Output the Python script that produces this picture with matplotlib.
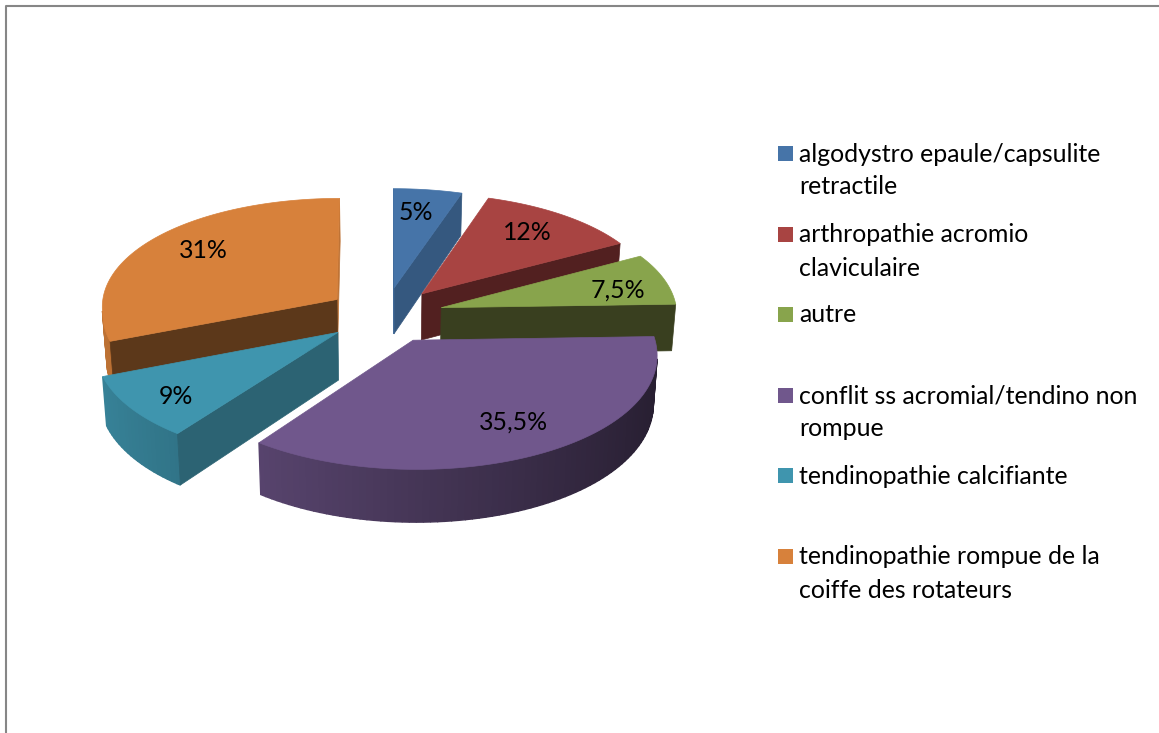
#!/usr/bin/env python3
"""
Exploded 3D style pie chart, drawn slice by slice with a small perspective projection
"""

import numpy as np
import matplotlib
matplotlib.use("Agg")
import matplotlib.pyplot as plt
from matplotlib.colors import to_rgb
from matplotlib.patches import Rectangle

# Data
labels = [
    "algodystro epaule/capsulite\nretractile",
    "arthropathie acromio\nclaviculaire",
    "autre",
    "conflit ss acromial/tendino non\nrompue",
    "tendinopathie calcifiante",
    "tendinopathie rompue de la\ncoiffe des rotateurs",
]
values = [5, 12, 7.5, 35.5, 9, 31]
value_texts = ["5%", "12%", "7,5%", "35,5%", "9%", "31%"]

# Colours
top_colors = ["#4674a8", "#a84442", "#88a44c", "#70578c", "#3f95ae", "#d7813b"]
wall_colors = ["#35587f", "#522020", "#393f1f", "#3a2d49", "#2c6373", "#5c381a"]

# Layout, in image pixels
WIDTH, HEIGHT = 1159, 733
CX, CY = 385, 315
RADIUS = 236
EXPLODE = 58.5
SQUASH = 0.478
PERSP = 0.00038
PERSP_BACK_X = 0.00024
PERSP_FRONT_X = 0.00048
DEPTH = 47
BOTTOM_SHRINK = 0.986
FONT_SIZE = 17.9
value_xy = [(416, 212), (527, 233), (618, 290), (513, 422), (176, 396), (203, 250)]
legend_y = [154, 235, 315, 396, 476, 557]
LINE_GAP = 33
draw_order = [5, 0, 1, 2, 4, 3]

plt.rcParams["font.family"] = ["Lato", "DejaVu Sans"]


def project(x, y, bottom=False):
    """World point in the pie plane to image pixels"""
    s = 1.0 / (1.0 + PERSP * y)
    # the pie narrows and widens a bit differently than it flattens
    s_x = 1.0 / (1.0 + (PERSP_BACK_X if y > 0 else PERSP_FRONT_X) * y)
    sx = s_x * x
    sy = CY - s * SQUASH * y
    if bottom:
        sx = sx * BOTTOM_SHRINK
        sy = sy + DEPTH * s
    return CX + sx, sy


def facing(quad):
    """True when a side quad looks at the viewer (image y runs downwards)"""
    pts = np.array(quad)
    x, y = pts[:, 0], pts[:, 1]
    return np.sum(x * np.roll(y, -1) - np.roll(x, -1) * y) > 0


def shaded(color, theta):
    """Rim colour gets darker towards the right hand side"""
    f = 0.62 - 0.27 * np.cos(theta)
    return tuple(c * f for c in to_rgb(color))


def draw_quad(ax, quad, color, lw=1.0):
    pts = np.array(quad)
    ax.fill(pts[:, 0], pts[:, 1], color=color, linewidth=lw, zorder=ax.zcount)
    ax.zcount += 1


def draw_slice(ax, start, end, top_color, wall_color):
    """start and end are counter clockwise angles in radians"""
    mid = 0.5 * (start + end)
    ox, oy = EXPLODE * np.cos(mid), EXPLODE * np.sin(mid)
    angles = np.arange(start, end, np.radians(1.5))
    angles = np.append(angles, end)

    rim = [(ox + RADIUS * np.cos(t), oy + RADIUS * np.sin(t)) for t in angles]

    # Outer rim first
    for i in range(len(rim) - 1):
        a, b = rim[i], rim[i + 1]
        quad = [project(*a), project(*b), project(*b, True), project(*a, True)]
        if facing(quad):
            draw_quad(ax, quad, shaded(top_color, 0.5 * (angles[i] + angles[i + 1])))

    # Then the two cut faces, the one at 12 o'clock catches the light
    apex = (ox, oy)
    for a, b, angle in [(apex, rim[0], start), (rim[-1], apex, end)]:
        quad = [project(*a), project(*b), project(*b, True), project(*a, True)]
        if facing(quad):
            color = shaded(top_color, np.pi) if np.sin(angle) > 0.999 else wall_color
            draw_quad(ax, quad, color, lw=0.5)

    # Top face last
    top = [project(*apex)] + [project(*p) for p in rim]
    draw_quad(ax, top, top_color, lw=0.5)


def main():
    fig = plt.figure(figsize=(WIDTH / 100, HEIGHT / 100), dpi=100)
    ax = fig.add_axes([0, 0, 1, 1])
    ax.set_xlim(0, WIDTH)
    ax.set_ylim(HEIGHT, 0)
    ax.axis("off")
    ax.zcount = 2

    # Chart border, only top and left are in the picture
    ax.plot([6, 6, WIDTH], [HEIGHT, 6, 6], color="#868686", linewidth=1.5, zorder=1)

    # Slices run clockwise from 12 o'clock
    fractions = np.cumsum([0] + values) / np.sum(values)
    edges = np.pi / 2 - 2 * np.pi * fractions
    for i in draw_order:
        draw_slice(ax, edges[i + 1], edges[i], top_colors[i], wall_colors[i])

    for text, (x, y) in zip(value_texts, value_xy):
        ax.text(x, y, text, fontsize=FONT_SIZE, color="black", ha="center", va="center",
                zorder=ax.zcount + 1)

    # Legend
    for label, color, y in zip(labels, top_colors, legend_y):
        ax.add_patch(Rectangle((778, y - 8), 15, 15, facecolor=color, edgecolor="none"))
        for j, line in enumerate(label.split("\n")):
            ax.text(799, y + j * LINE_GAP, line, fontsize=FONT_SIZE, color="black",
                    ha="left", va="center")

    fig.savefig("out.png", dpi=100)


if __name__ == "__main__":
    main()
